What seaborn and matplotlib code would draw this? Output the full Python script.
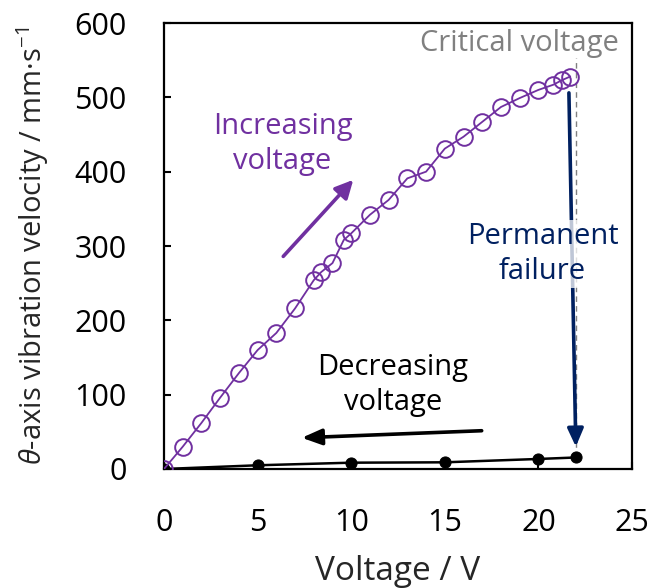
import matplotlib
matplotlib.use("Agg")
import matplotlib.pyplot as plt
import seaborn as sns
import pandas as pd

# Increasing-voltage sweep (open circles)
inc_voltage = [0, 1, 2, 3, 4, 5, 6, 7, 8, 8.4, 9, 9.6, 10, 11, 12, 13, 14, 15,
               16, 17, 18, 19, 20, 20.8, 21.25, 21.7]
inc_velocity = [0, 30, 62, 96, 129, 160, 183, 216, 254, 265, 277, 308, 317, 342,
                362, 391, 400, 431, 447, 467, 487, 499, 510, 517, 523, 528]

# Decreasing-voltage sweep after failure (filled dots)
dec_voltage = [0, 5, 10, 15, 20, 22]
dec_velocity = [0, 5, 8.5, 9, 13.5, 15.5]

critical_voltage = 22
x_ticks = [0, 5, 10, 15, 20, 25]
y_ticks = [0, 100, 200, 300, 400, 500, 600]

PURPLE = "#7030A0"
NAVY = "#002060"
GREY = "#808080"

sns.set_theme(style="ticks")
plt.rcParams["font.family"] = ["Open Sans", "DejaVu Sans"]
plt.rcParams["mathtext.fontset"] = "custom"
plt.rcParams["mathtext.it"] = "Open Sans:italic"
plt.rcParams["mathtext.rm"] = "Open Sans"

fig = plt.figure(figsize=(6.66, 5.88), dpi=100)
ax = fig.add_axes([164 / 666, 1 - 469 / 588, 468 / 666, 446 / 588])

inc = pd.DataFrame({"V": inc_voltage, "v": inc_velocity})
dec = pd.DataFrame({"V": dec_voltage, "v": dec_velocity})

sns.lineplot(data=dec, x="V", y="v", ax=ax, color="black", lw=1.8,
             marker="o", markersize=8, markerfacecolor="black",
             markeredgecolor="black", estimator=None, sort=False, zorder=3)
sns.lineplot(data=inc, x="V", y="v", ax=ax, color=PURPLE, lw=1.3,
             marker="o", markersize=12, markerfacecolor="none",
             markeredgecolor=PURPLE, markeredgewidth=1.4,
             estimator=None, sort=False, zorder=4)

ANNOT_FS = 21

# Critical voltage marker
ax.plot([critical_voltage, critical_voltage], [dec_velocity[-1], 553],
        color=GREY, lw=1.0, ls=(0, (4, 3)), zorder=1)
ax.text(19.0, 572, "Critical voltage", color=GREY, fontsize=ANNOT_FS,
        ha="center", va="center")

# Direction arrows
ax.annotate("", xy=(10.11, 389), xytext=(6.37, 286),
            arrowprops=dict(arrowstyle="-|>,head_length=0.9,head_width=0.45",
                            color=PURPLE, lw=2.6, shrinkA=0, shrinkB=0))
ax.text(6.33, 437, "Increasing\nvoltage", color=PURPLE, fontsize=ANNOT_FS,
        ha="center", va="center", linespacing=1.3)

ax.annotate("", xy=(22.0, 30), xytext=(21.63, 506),
            arrowprops=dict(arrowstyle="-|>,head_length=0.9,head_width=0.4",
                            color=NAVY, lw=2.6, shrinkA=0, shrinkB=0), zorder=2)
ax.text(20.22, 289, "Permanent\nfailure", color=NAVY, fontsize=ANNOT_FS,
        ha="center", va="center", linespacing=1.3, zorder=5,
        bbox=dict(facecolor="white", edgecolor="none", alpha=0.75, pad=1))

ax.annotate("", xy=(7.36, 42), xytext=(16.97, 51.5),
            arrowprops=dict(arrowstyle="-|>,head_length=1.0,head_width=0.4",
                            color="black", lw=2.6, shrinkA=0, shrinkB=0))
ax.text(12.23, 113, "Decreasing\nvoltage", color="black", fontsize=ANNOT_FS,
        ha="center", va="center", linespacing=1.3)

ax.set_xlim(0, 25)
ax.set_ylim(0, 600)
ax.set_xticks(x_ticks)
ax.set_yticks(y_ticks)
ax.tick_params(direction="in", length=5, width=1.5, labelsize=22,
               colors="black")
ax.tick_params(axis="x", pad=28)
ax.tick_params(axis="y", pad=27)
for s in ax.spines.values():
    s.set_linewidth(1.6)
    s.set_color("black")
    s.set_visible(True)

ax.set_xlabel("Voltage / V", fontsize=24, labelpad=12)
ax.set_ylabel(r"$\theta$-axis vibration velocity / mm·s$^{-1}$", fontsize=21,
              labelpad=17)

fig.savefig("out.png", dpi=100, facecolor="white")
